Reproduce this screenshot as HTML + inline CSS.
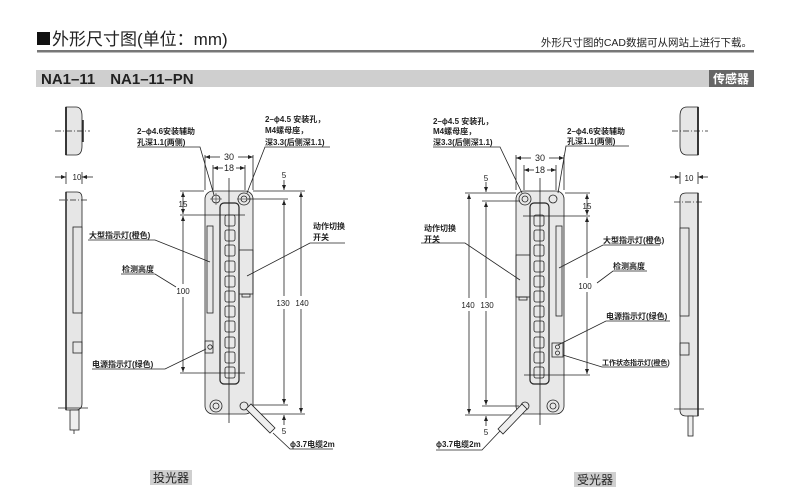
<!DOCTYPE html>
<html><head><meta charset="utf-8"><style>
html,body{margin:0;padding:0;background:#fff;width:790px;height:502px;overflow:hidden}
svg{display:block}
text{font-family:"Liberation Sans","Noto Sans CJK SC",sans-serif;fill:#222}
.l{font-size:8px;font-weight:bold}
.d{font-size:9px}
</style></head><body>
<svg width="790" height="502" viewBox="0 0 790 502" xmlns="http://www.w3.org/2000/svg">
<defs>
<marker id="a" markerWidth="6" markerHeight="6" refX="5" refY="3" orient="auto-start-reverse" markerUnits="userSpaceOnUse"><path d="M0,1 L5,3 L0,5 z" fill="#222"/></marker>
</defs>
<!-- header -->
<rect x="37" y="32" width="13" height="13" fill="#111"/>
<text x="52" y="45" style="font-size:17px">外形尺寸图(单位：mm)</text>
<text x="752" y="46" text-anchor="end" style="font-size:10.5px">外形尺寸图的CAD数据可从网站上进行下载。</text>
<rect x="37" y="50" width="717" height="2.5" fill="#777"/>
<rect x="36" y="70" width="718" height="17" fill="#cfcfcf"/>
<text x="41" y="84" style="font-size:15px;font-weight:bold">NA1–11　NA1–11–PN</text>
<rect x="709" y="70" width="45" height="17" fill="#666"/>
<text x="731" y="83" text-anchor="middle" style="font-size:12px;font-weight:bold;fill:#fff">传感器</text>

<g stroke="#222" stroke-width="0.8" fill="none">
<!-- LEFT side views -->
<path d="M66,107 H76 Q82,107 82,116 V146 Q82,155 76,155 H66 Z" fill="#e6e6e6"/>
<line x1="66" y1="107" x2="66" y2="155" stroke-width="1.8"/>
<line x1="55" y1="131" x2="90" y2="131" stroke-dasharray="6,2,1,2"/>
<line x1="83" y1="120" x2="83" y2="142" stroke-width="1.5"/>
<line x1="66" y1="172" x2="66" y2="184"/><line x1="82" y1="172" x2="82" y2="184"/>
<line x1="55" y1="177" x2="66" y2="177" marker-end="url(#a)"/><line x1="93" y1="177" x2="82" y2="177" marker-end="url(#a)"/>
<path d="M66,192 H77 Q82,192 82,198 V404 Q82,409 77,410 H66 Z" fill="#e6e6e6"/>
<line x1="66" y1="192" x2="66" y2="410" stroke-width="1.5"/>
<line x1="59" y1="200" x2="88" y2="200" stroke-dasharray="6,2,1,2"/>
<rect x="73" y="227" width="9" height="86" fill="#e6e6e6"/>
<rect x="73" y="342" width="9" height="11"/>
<line x1="58" y1="408" x2="88" y2="408"/>
<rect x="70" y="410" width="9" height="20" fill="#eee"/>
<line x1="74" y1="430" x2="74" y2="434"/>

<!-- LEFT front -->
<rect x="205" y="191" width="48" height="223" rx="8" fill="#e8e8e8"/>
<circle cx="216" cy="199" r="4"/>
<circle cx="244" cy="199" r="6"/><circle cx="244" cy="199" r="3"/>
<circle cx="216" cy="406" r="6"/><circle cx="216" cy="406" r="3"/>
<circle cx="244" cy="406" r="4"/>
<rect x="220" y="203" width="19" height="181" rx="4" fill="#e8e8e8" stroke-width="1.2"/>
<g fill="#e8e8e8">
<rect x="225" y="215" width="10" height="11" rx="2"/><rect x="225" y="230" width="10" height="11" rx="2"/><rect x="225" y="245" width="10" height="11" rx="2"/><rect x="225" y="261" width="10" height="11" rx="2"/><rect x="225" y="276" width="10" height="11" rx="2"/><rect x="225" y="291" width="10" height="11" rx="2"/><rect x="225" y="306" width="10" height="11" rx="2"/><rect x="225" y="321" width="10" height="11" rx="2"/><rect x="225" y="337" width="10" height="11" rx="2"/><rect x="225" y="352" width="10" height="11" rx="2"/><rect x="225" y="367" width="10" height="11" rx="2"/>
</g>
<rect x="207" y="226" width="6" height="87"/>
<rect x="205" y="341" width="8" height="12"/><circle cx="210" cy="347" r="2.2"/>
<rect x="239" y="250" width="14" height="44"/><rect x="242" y="294" width="8" height="3"/>
<line x1="229" y1="178" x2="229" y2="423"/>
<line x1="210" y1="199" x2="222" y2="199" stroke-width="0.5"/><line x1="216" y1="193" x2="216" y2="205" stroke-width="0.5"/>
<line x1="237" y1="199" x2="251" y2="199" stroke-width="0.5"/>
<!-- dims left -->
<line x1="205" y1="155" x2="205" y2="190"/><line x1="253" y1="155" x2="253" y2="190"/>
<line x1="213" y1="165" x2="213" y2="190"/><line x1="245" y1="165" x2="245" y2="190"/>
<line x1="220" y1="157" x2="205" y2="157" marker-end="url(#a)"/><line x1="238" y1="157" x2="253" y2="157" marker-end="url(#a)"/>
<line x1="223" y1="168" x2="213" y2="168" marker-end="url(#a)"/><line x1="236" y1="168" x2="245" y2="168" marker-end="url(#a)"/>
<line x1="180" y1="191" x2="204" y2="191"/>
<line x1="180" y1="215" x2="245" y2="215"/>
<line x1="180" y1="373" x2="245" y2="373"/>
<line x1="183" y1="192" x2="183" y2="214" marker-start="url(#a)" marker-end="url(#a)"/>
<line x1="183" y1="216" x2="183" y2="284" marker-start="url(#a)"/><line x1="183" y1="297" x2="183" y2="372" marker-end="url(#a)"/>
<line x1="253" y1="191" x2="305" y2="191"/><line x1="248" y1="199" x2="288" y2="199"/>
<line x1="253" y1="405" x2="288" y2="405"/><line x1="253" y1="414" x2="305" y2="414"/>
<line x1="284" y1="200" x2="284" y2="296" marker-start="url(#a)"/><line x1="284" y1="309" x2="284" y2="404" marker-end="url(#a)"/>
<line x1="301" y1="192" x2="301" y2="296" marker-start="url(#a)"/><line x1="301" y1="309" x2="301" y2="413" marker-end="url(#a)"/>
<line x1="284" y1="180" x2="284" y2="190" marker-end="url(#a)"/>
<line x1="284" y1="425" x2="284" y2="415" marker-end="url(#a)"/>
<!-- cable left -->
<path d="M246,409 L270,433 L275,428 L251,404 Z" fill="#eee"/>
<!-- leaders left -->
<polyline points="137,147 200,147 214,195"/>
<polyline points="330,147 265,147 247,193"/>
<polyline points="88,240 155,240 210,262"/>
<polyline points="345,243 310,243 247,276"/>
<polyline points="121,274 155,274 176,287"/>
<polyline points="92,369 165,369 206,349"/>
<polyline points="333,449 290,449 273,433"/>

<!-- RIGHT side views -->
<path d="M698,107 H687 Q680,107 680,116 V146 Q680,155 687,155 H698 Z" fill="#e6e6e6"/>
<line x1="698" y1="107" x2="698" y2="155" stroke-width="1.8"/>
<line x1="672" y1="131" x2="708" y2="131" stroke-dasharray="6,2,1,2"/>
<line x1="680" y1="172" x2="680" y2="184"/><line x1="698" y1="172" x2="698" y2="184"/>
<line x1="670" y1="177" x2="680" y2="177" marker-end="url(#a)"/><line x1="708" y1="177" x2="698" y2="177" marker-end="url(#a)"/>
<path d="M698,193 H686 Q680,193 680,199 V410 Q680,416 686,416 H698 Z" fill="#e6e6e6"/>
<line x1="698" y1="193" x2="698" y2="416" stroke-width="1.5"/>
<line x1="674" y1="202" x2="704" y2="202" stroke-dasharray="6,2,1,2"/>
<rect x="680" y="228" width="9" height="88" fill="#e6e6e6"/>
<rect x="680" y="343" width="9" height="12"/>
<line x1="674" y1="409" x2="704" y2="409"/>
<rect x="688" y="416" width="5" height="20" fill="#eee"/>

<!-- RIGHT front -->
<rect x="516" y="191" width="48" height="223" rx="8" fill="#e8e8e8"/>
<circle cx="525" cy="199" r="6"/><circle cx="525" cy="199" r="3"/>
<circle cx="553" cy="199" r="4"/>
<circle cx="525" cy="406" r="4"/>
<circle cx="553" cy="406" r="6"/><circle cx="553" cy="406" r="3"/>
<rect x="530" y="203" width="19" height="181" rx="4" fill="#e8e8e8" stroke-width="1.2"/>
<g fill="#e8e8e8">
<rect x="534" y="215" width="10" height="11" rx="2"/><rect x="534" y="230" width="10" height="11" rx="2"/><rect x="534" y="245" width="10" height="11" rx="2"/><rect x="534" y="261" width="10" height="11" rx="2"/><rect x="534" y="276" width="10" height="11" rx="2"/><rect x="534" y="291" width="10" height="11" rx="2"/><rect x="534" y="306" width="10" height="11" rx="2"/><rect x="534" y="321" width="10" height="11" rx="2"/><rect x="534" y="337" width="10" height="11" rx="2"/><rect x="534" y="352" width="10" height="11" rx="2"/><rect x="534" y="367" width="10" height="11" rx="2"/>
</g>
<rect x="556" y="226" width="6" height="90"/>
<rect x="552" y="343" width="11" height="14"/><circle cx="557.5" cy="347" r="2"/><circle cx="557.5" cy="353" r="2"/>
<rect x="516" y="255" width="14" height="42"/><rect x="519" y="297" width="8" height="3"/>
<line x1="540" y1="178" x2="540" y2="425"/>
<!-- dims right -->
<line x1="516" y1="155" x2="516" y2="190"/><line x1="564" y1="155" x2="564" y2="190"/>
<line x1="524" y1="165" x2="524" y2="190"/><line x1="556" y1="165" x2="556" y2="190"/>
<line x1="531" y1="158" x2="516" y2="158" marker-end="url(#a)"/><line x1="549" y1="158" x2="564" y2="158" marker-end="url(#a)"/>
<line x1="534" y1="170" x2="524" y2="170" marker-end="url(#a)"/><line x1="547" y1="170" x2="556" y2="170" marker-end="url(#a)"/>
<line x1="565" y1="193" x2="590" y2="193"/>
<line x1="523" y1="216" x2="590" y2="216"/>
<line x1="524" y1="375" x2="590" y2="375"/>
<line x1="587" y1="194" x2="587" y2="215" marker-start="url(#a)" marker-end="url(#a)"/>
<line x1="587" y1="217" x2="587" y2="278" marker-start="url(#a)"/><line x1="587" y1="292" x2="587" y2="374" marker-end="url(#a)"/>
<line x1="465" y1="193" x2="516" y2="193"/><line x1="482" y1="201" x2="520" y2="201"/>
<line x1="482" y1="406" x2="519" y2="406"/><line x1="465" y1="415" x2="520" y2="415"/>
<line x1="469" y1="194" x2="469" y2="298" marker-start="url(#a)"/><line x1="469" y1="311" x2="469" y2="414" marker-end="url(#a)"/>
<line x1="486" y1="202" x2="486" y2="298" marker-start="url(#a)"/><line x1="486" y1="311" x2="486" y2="405" marker-end="url(#a)"/>
<line x1="486" y1="182" x2="486" y2="192" marker-end="url(#a)"/>
<line x1="486" y1="426" x2="486" y2="416" marker-end="url(#a)"/>
<!-- cable right -->
<path d="M522,404 L498,429 L503,434 L527,409 Z" fill="#eee"/>
<!-- leaders right -->
<polyline points="433,147 500,147 522,193"/>
<polyline points="629,146 566,146 558,193"/>
<polyline points="421,243 465,243 520,280"/>
<polyline points="660,245 603,245 559,268"/>
<polyline points="647,271 613,271 597,283"/>
<polyline points="670,321 606,321 558,345"/>
<polyline points="668,367 602,367 563,355"/>
<polyline points="436,450 482,450 500,431"/>
</g>

<!-- text labels left -->
<text class="d" x="229" y="160" text-anchor="middle">30</text>
<text class="d" x="229" y="171" text-anchor="middle">18</text>
<text class="d" x="183" y="207" text-anchor="middle" style="font-size:8px">15</text>
<text class="d" x="183" y="294" text-anchor="middle" style="font-size:8px">100</text>
<text class="d" x="283" y="306" text-anchor="middle" style="font-size:8px">130</text>
<text class="d" x="302" y="306" text-anchor="middle" style="font-size:8px">140</text>
<text class="d" x="284" y="178" text-anchor="middle" style="font-size:8px">5</text>
<text class="d" x="284" y="434" text-anchor="middle" style="font-size:8px">5</text>
<text class="l" x="137" y="134">2–ϕ4.6安装辅助</text>
<text class="l" x="137" y="145">孔深1.1(两侧)</text>
<text class="l" x="265" y="122">2–ϕ4.5 安装孔，</text>
<text class="l" x="265" y="133">M4螺母座，</text>
<text class="l" x="265" y="145">深3.3(后侧深1.1)</text>
<text class="l" x="89" y="238">大型指示灯(橙色)</text>
<text class="l" x="313" y="229">动作切换</text>
<text class="l" x="313" y="240">开关</text>
<text class="l" x="122" y="272">检测高度</text>
<text class="l" x="92" y="367">电源指示灯(绿色)</text>
<text class="l" x="290" y="447">ϕ3.7电缆2m</text>
<text class="d" x="77" y="180" text-anchor="middle" style="font-size:8px">10</text>
<rect x="150" y="470" width="42" height="15" fill="#cfcfcf"/>
<text x="171" y="482" text-anchor="middle" style="font-size:12px">投光器</text>

<!-- text labels right -->
<text class="d" x="540" y="161" text-anchor="middle">30</text>
<text class="d" x="540" y="173" text-anchor="middle">18</text>
<text class="d" x="587" y="209" text-anchor="middle" style="font-size:8px">15</text>
<text class="d" x="585" y="289" text-anchor="middle" style="font-size:8px">100</text>
<text class="d" x="468" y="308" text-anchor="middle" style="font-size:8px">140</text>
<text class="d" x="487" y="308" text-anchor="middle" style="font-size:8px">130</text>
<text class="d" x="486" y="181" text-anchor="middle" style="font-size:8px">5</text>
<text class="d" x="486" y="435" text-anchor="middle" style="font-size:8px">5</text>
<text class="l" x="433" y="124">2–ϕ4.5 安装孔，</text>
<text class="l" x="433" y="134">M4螺母座，</text>
<text class="l" x="433" y="145">深3.3(后侧深1.1)</text>
<text class="l" x="567" y="134">2–ϕ4.6安装辅助</text>
<text class="l" x="567" y="144">孔深1.1(两侧)</text>
<text class="l" x="424" y="231">动作切换</text>
<text class="l" x="424" y="242">开关</text>
<text class="l" x="603" y="243">大型指示灯(橙色)</text>
<text class="l" x="613" y="269">检测高度</text>
<text class="l" x="606" y="319">电源指示灯(绿色)</text>
<text class="l" x="602" y="365" style="font-size:7px">工作状态指示灯(橙色)</text>
<text class="l" x="436" y="447">ϕ3.7电缆2m</text>
<text class="d" x="689" y="181" text-anchor="middle" style="font-size:8px">10</text>
<rect x="574" y="472" width="42" height="15" fill="#cfcfcf"/>
<text x="595" y="484" text-anchor="middle" style="font-size:12px">受光器</text>
</svg>
</body></html>
